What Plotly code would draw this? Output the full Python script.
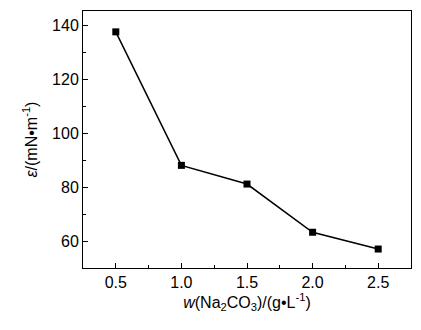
import plotly.graph_objects as go

concentration = [0.5, 1.0, 1.5, 2.0, 2.5]
epsilon = [137.5, 88.2, 81.3, 63.5, 57.3]
x_ticks = [0.5, 1.0, 1.5, 2.0, 2.5]
x_tick_labels = ["0.5", "1.0", "1.5", "2.0", "2.5"]
y_ticks = [60, 80, 100, 120, 140]

fig = go.Figure()
fig.add_trace(go.Scatter(
    x=concentration, y=epsilon, mode="lines+markers",
    line=dict(color="black", width=1.5),
    marker=dict(symbol="square", size=7, color="black"),
    showlegend=False,
))

font = dict(family="Liberation Sans, Arial, sans-serif", size=16, color="black")

fig.update_layout(
    width=421, height=330,
    margin=dict(l=83, r=10, t=11, b=62),
    paper_bgcolor="white", plot_bgcolor="white",
    font=font,
    xaxis=dict(
        range=[0.25, 2.75], tickvals=x_ticks, ticktext=x_tick_labels,
        ticks="inside", ticklen=5, tickwidth=1, tickcolor="black",
        minor=dict(ticks="inside", ticklen=3, dtick=0.25, tickcolor="black"),
        showline=True, linecolor="black", linewidth=1, mirror=True,
        showgrid=False, zeroline=False,
        title=dict(text="<i>w</i>(Na<sub>2</sub>CO<sub>3</sub>)/(g•L<sup>-1</sup>)",
                   font=dict(size=16), standoff=4),
    ),
    yaxis=dict(
        range=[50.3, 145.2], tickvals=y_ticks,
        ticks="inside", ticklen=5, tickwidth=1, tickcolor="black",
        minor=dict(ticks="inside", ticklen=3, dtick=10, tickcolor="black"),
        showline=True, linecolor="black", linewidth=1, mirror=True,
        showgrid=False, zeroline=False,
        title=dict(text="<i>ε</i>/(mN•m<sup>-1</sup>)", font=dict(size=16), standoff=10),
    ),
)

fig.write_html("out.html")
